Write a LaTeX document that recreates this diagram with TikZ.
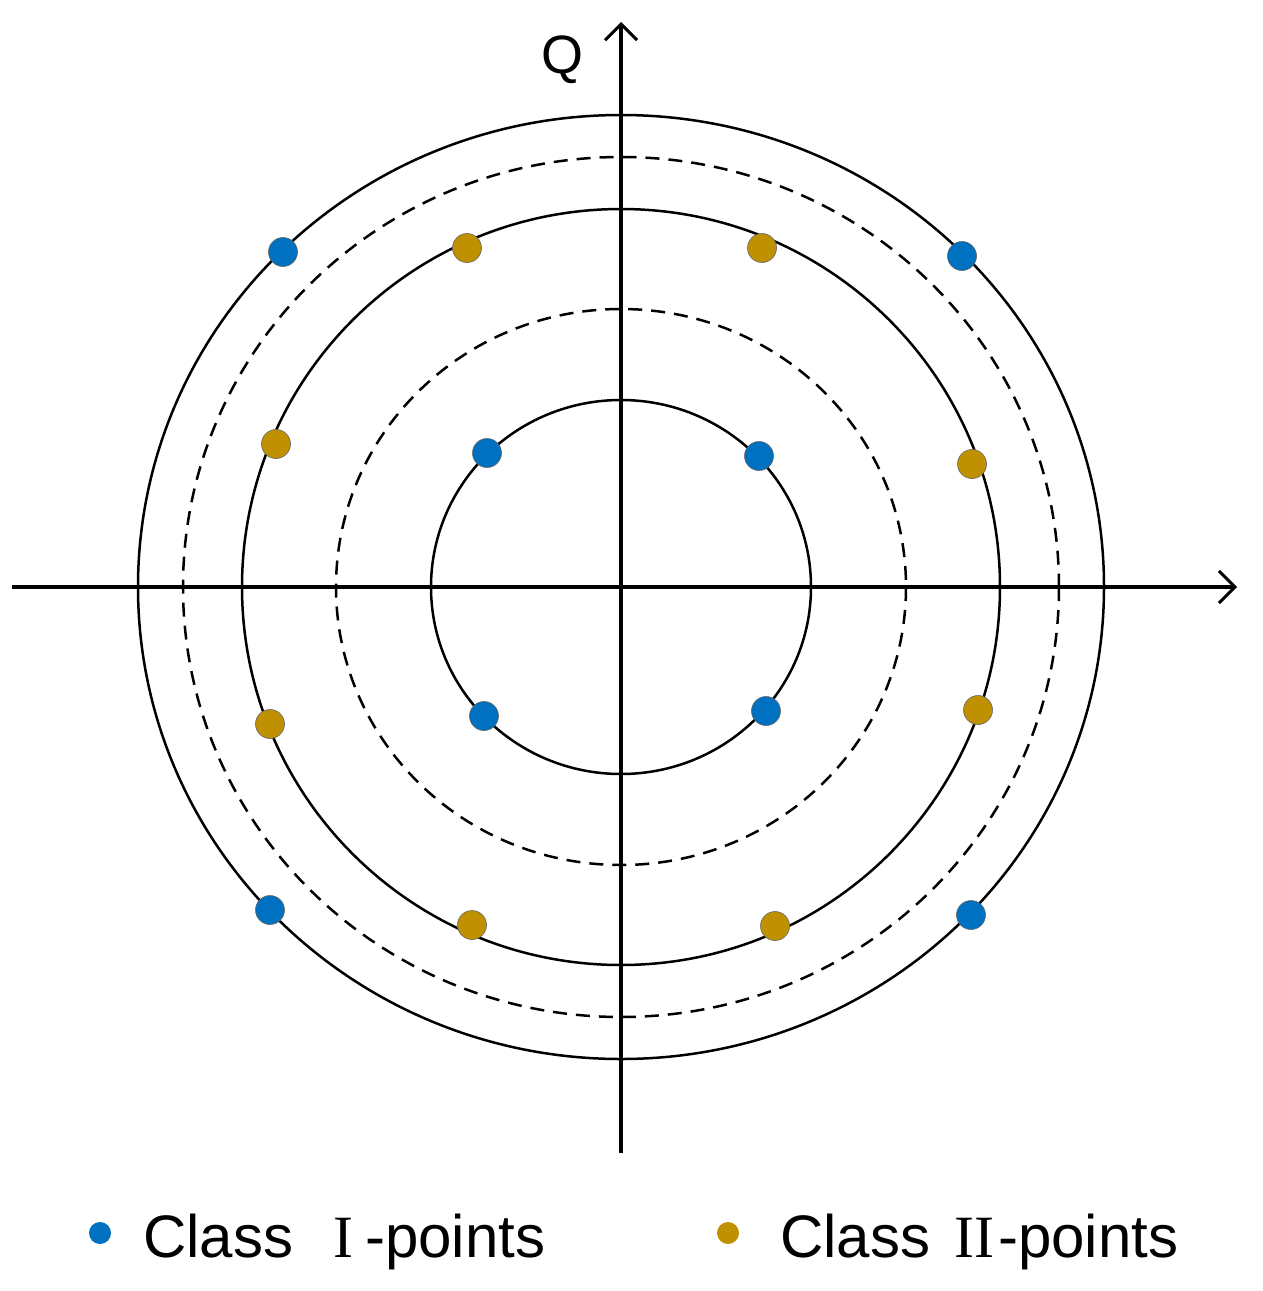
\documentclass[tikz,border=0pt]{standalone}
\usepackage{fontspec}
\setmainfont{Liberation Sans}
\newfontfamily\romfont{Liberation Serif}
\usetikzlibrary{arrows.meta}
\definecolor{cblue}{RGB}{0,112,192}
\definecolor{cgold}{RGB}{191,144,0}
\begin{document}
\begin{tikzpicture}[x=1pt,y=-1pt,
  ring/.style={line width=2.5pt},
  dring/.style={line width=2.5pt,dash pattern=on 14pt off 9pt},
  ax/.style={line width=3.2pt,-{Straight Barb[length=16pt,width=32pt,line width=3pt]}},
  bdot/.style={circle,fill=cblue,draw=black!60,line width=0.6pt,inner sep=0pt,minimum size=29pt},
  gdot/.style={circle,fill=cgold,draw=black!60,line width=0.6pt,inner sep=0pt,minimum size=29pt},
  lab/.style={font=\fontsize{60}{64}\selectfont,anchor=base west,inner sep=0pt}]
\useasboundingbox (0,0) rectangle (1262,1291);
\coordinate (O) at (621,587);
\draw[ring] (O) ellipse [x radius=190,y radius=187];
\draw[dring] (O) ellipse [x radius=285,y radius=278];
\draw[ring] (O) ellipse [x radius=379,y radius=378];
\draw[dring] (O) ellipse [x radius=438,y radius=430];
\draw[ring] (O) ellipse [x radius=483,y radius=472];
\coordinate (xl) at (12,587); \coordinate (xr) at (1237,587);
\coordinate (yb) at (621,1153); \coordinate (yt) at (621,22);
\draw[ax] (xl) -- (xr);
\draw[ax] (yb) -- (yt);
\node[font=\fontsize{54}{58}\selectfont] (q) at (562,60) {Q};
\foreach \n/\p in {b1/{283,252},b2/{962,256},b3/{487,453},b4/{759,456},b5/{484,716},b6/{766,711},b7/{270,910},b8/{971,915}}
  \node[bdot] (\n) at (\p) {};
\foreach \n/\p in {g1/{467,248},g2/{762,248},g3/{276,444},g4/{972,464},g5/{270,724},g6/{978,710},g7/{472,925},g8/{775,926}}
  \node[gdot] (\n) at (\p) {};
\node[circle,fill=cblue,inner sep=0pt,minimum size=22pt] (lb) at (100,1233) {};
\node[lab] (lt1) at (143,1257) {Class\hspace{40pt}{\romfont I}\hspace{12pt}-points};
\node[circle,fill=cgold,inner sep=0pt,minimum size=22pt] (lg) at (728,1233) {};
\node[lab] (lt2) at (780,1257) {Class\hspace{24pt}{\romfont II}\hspace{4pt}-points};
\end{tikzpicture}
\end{document}
